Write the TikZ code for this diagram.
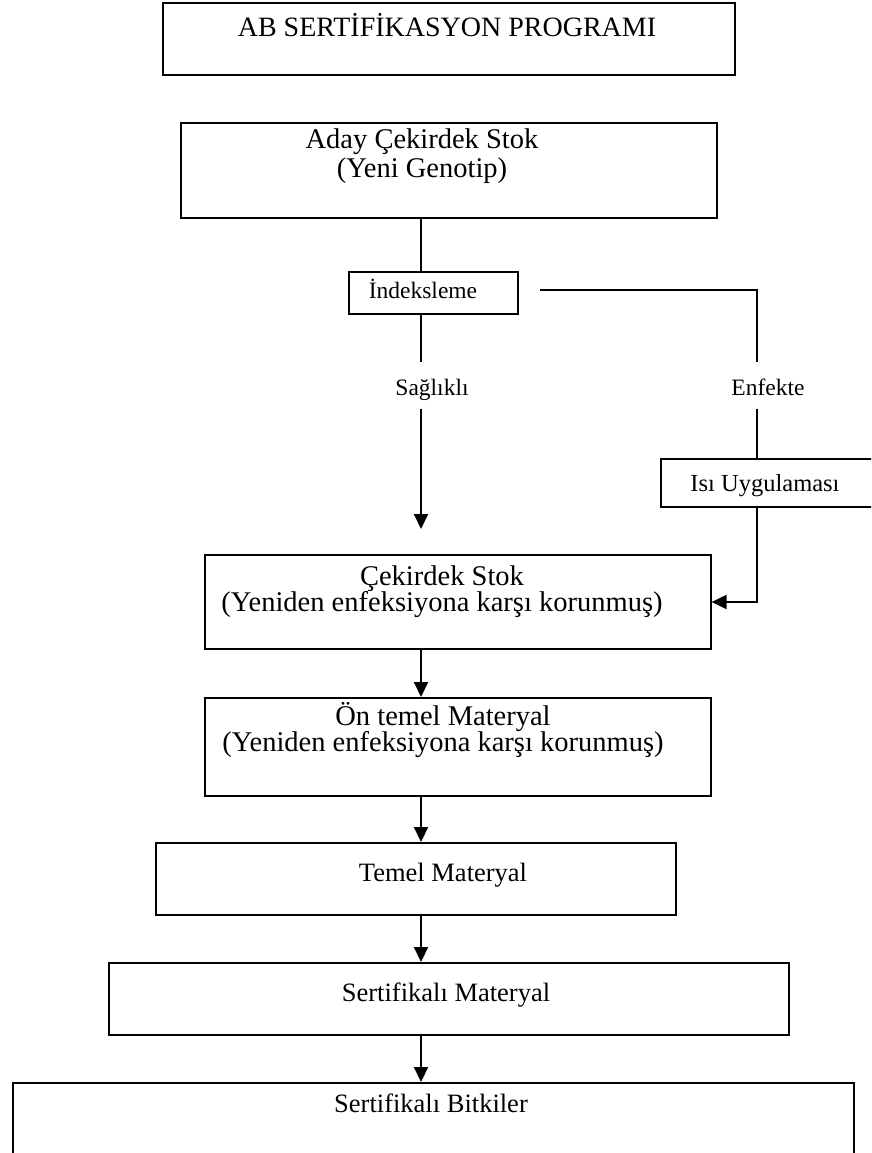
\documentclass[tikz,border=0pt]{standalone}
\usepackage{fontspec}
\setmainfont{Liberation Serif}
\usetikzlibrary{arrows.meta}

\tikzset{
  box/.style={draw, line width=1.6pt, inner sep=0pt, anchor=north west},
  main/.style={anchor=base, inner sep=0pt, font=\fontsize{28.5}{30}\selectfont},
  mid/.style={anchor=base, inner sep=0pt, font=\fontsize{26.5}{28}\selectfont},
  small/.style={anchor=base, inner sep=0pt, font=\fontsize{23.5}{26}\selectfont},
  link/.style={line width=1.6pt},
  flow/.style={line width=2pt, -{Triangle[length=15pt,width=14pt]}}
}

\begin{document}
\begin{tikzpicture}[x=1pt, y=-1pt]
\useasboundingbox (0,0) rectangle (871,1153);
\clip (0,0) rectangle (871,1153);

% boxes
\node[box, minimum width=572pt, minimum height=72pt] (prog) at (162,2) {};
\node[box, minimum width=536pt, minimum height=95pt] (aday) at (180,122) {};
\node[box, minimum width=169pt, minimum height=42pt] (index) at (348,271) {};
\node[box, minimum width=230pt, minimum height=48pt] (heat) at (660,458) {};
\node[box, minimum width=506pt, minimum height=94pt] (nucleus) at (204,554) {};
\node[box, minimum width=506pt, minimum height=98pt] (prebasic) at (204,697) {};
\node[box, minimum width=520pt, minimum height=72pt] (basic) at (155,842) {};
\node[box, minimum width=680pt, minimum height=72pt] (certmat) at (108,962) {};
\node[box, minimum width=841pt, minimum height=100pt] (plants) at (12,1082) {};

% texts
\node[main, font=\fontsize{28}{30}\selectfont] (tprog) at (447,37) {AB SERTİFİKASYON PROGRAMI};
\node[main] (taday1) at (422,149) {Aday Çekirdek Stok};
\node[main] (taday2) at (422,177) {(Yeni Genotip)};
\node[small] (tindex) at (423,298) {İndeksleme};
\node[small, font=\fontsize{24.5}{26}\selectfont] (theat) at (765,491) {Isı Uygulaması};
\node[main] (tnuc1) at (442,585) {Çekirdek Stok};
\node[main] (tnuc2) at (442,611) {(Yeniden enfeksiyona karşı korunmuş)};
\node[main] (tpre1) at (443,725) {Ön temel Materyal};
\node[main] (tpre2) at (443,751) {(Yeniden enfeksiyona karşı korunmuş)};
\node[mid] (tbasic) at (443,881) {Temel Materyal};
\node[mid] (tcert) at (446,1001) {Sertifikalı Materyal};
\node[mid] (tplants) at (431,1112) {Sertifikalı Bitkiler};

% branch labels
\node[small] (healthy) at (432,395) {Sağlıklı};
\node[small] (infected) at (768,395) {Enfekte};

% connector points
\coordinate (hstart) at (540,290);
\coordinate (hcorner) at (757,290);
\coordinate (hgap1) at (757,362);
\coordinate (hgap2) at (757,409);
\coordinate (lgap1) at (421,362);
\coordinate (lgap2) at (421,409);
\coordinate (ltip) at (421,529);
\coordinate (rcorner) at (757,602);

% connectors
\draw[link] (aday.south -| lgap1) -- (index.north -| lgap1);
\draw[link] (index.south -| lgap1) -- (lgap1);
\draw[flow] (lgap2) -- (ltip);
\draw[link] (hstart) -- (hcorner) -- (hgap1);
\draw[link] (hgap2) -- (heat.north -| hgap2);
\draw[flow] (heat.south -| rcorner) -- (rcorner) -- (nucleus.east |- rcorner);
\draw[flow] (nucleus.south -| lgap1) -- (prebasic.north -| lgap1);
\draw[flow] (prebasic.south -| lgap1) -- (basic.north -| lgap1);
\draw[flow] (basic.south -| lgap1) -- (certmat.north -| lgap1);
\draw[flow] (certmat.south -| lgap1) -- (plants.north -| lgap1);
\end{tikzpicture}
\end{document}
